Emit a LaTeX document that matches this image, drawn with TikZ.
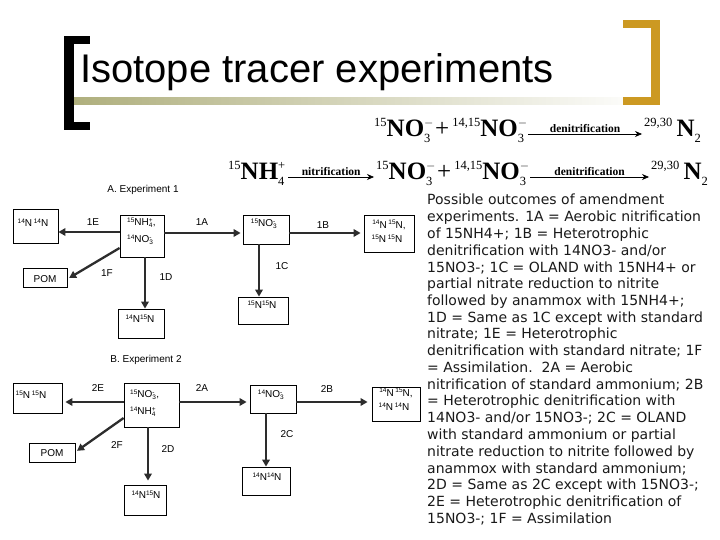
\documentclass[tikz,border=0pt]{standalone}
\usepackage{fontspec}
\setmainfont{Liberation Sans}
\newfontfamily\tnr{Liberation Serif}
\newfontfamily\dvs{DejaVu Sans}
\usetikzlibrary{arrows.meta}
\definecolor{goldc}{RGB}{204,153,34}
\definecolor{olv}{RGB}{175,175,125}
\definecolor{arrc}{RGB}{45,45,45}
% equation helpers
\newcommand\eqsup[1]{\raisebox{10pt}{\fontsize{12.5}{13}\selectfont #1}}
\newcommand\eqsub[1]{\raisebox{-6pt}{\fontsize{12.5}{13}\selectfont #1}}
\newcommand\eqsubsup[2]{\makebox[8pt][l]{\rlap{\eqsup{#2}}\eqsub{#1}}}
\newcommand\eqplus{\hspace{3pt}+\hspace{3pt}}
% box text helpers
\newcommand\bsp[1]{\raisebox{3.5pt}{\fontsize{6.5}{7}\selectfont #1}}
\newcommand\bsb[1]{\raisebox{-2pt}{\fontsize{6.5}{7}\selectfont #1}}
\newcommand\bsbsp[2]{\makebox[4pt][l]{\rlap{\bsp{#2}}\bsb{#1}}}
\tikzset{
  box/.style={draw, line width=0.8pt, inner sep=0, rectangle},
  arr/.style={draw=arrc, line width=2.3pt, -{Triangle[length=7pt,width=7.5pt]}},
  lab/.style={font=\fontsize{10}{12}\selectfont, inner sep=0},
  bt/.style={font=\fontsize{10}{12}\selectfont, inner sep=0},
  eqf/.style={font=\tnr\fontsize{25}{28}\selectfont, inner sep=0},
  eqarr/.style={draw=black, line width=0.7pt, -{Stealth[length=7pt,width=6pt]}, shorten <=2pt, shorten >=2pt},
  eqlab/.style={font=\tnr\bfseries\fontsize{11.5}{12}\selectfont, inner sep=1pt}
}
\begin{document}
\begin{tikzpicture}[x=1pt,y=-1pt]
\useasboundingbox (0,0) rectangle (720,540);
% title decoration
\shade[left color=olv, right color=white] (73,98) rectangle (650,105);
\fill[black] (64,36) rectangle (74,130);
\fill[black] (64,36) rectangle (90,44);
\fill[black] (64,122) rectangle (90,130);
\fill[goldc] (651,20) rectangle (660,105);
\fill[goldc] (623,20) rectangle (660,28);
\fill[goldc] (623,97) rectangle (660,105);
\node[anchor=base west, inner sep=0, font=\fontsize{40}{48}\selectfont] (title) at (80,83) {Isotope tracer experiments};

% equation 1
\node[eqf, anchor=base west] (e1a) at (374,137) {\eqsup{15}\textbf{NO}\eqsubsup{3}{$-$}\eqplus\eqsup{14,15}\textbf{NO}\eqsubsup{3}{$-$}};
\node[eqf, anchor=base east] (e1b) at (701,137) {\eqsup{29,30}\,\textbf{N}\eqsub{2}};
\draw[eqarr] ([yshift=3pt]e1a.base east) -- ([yshift=3pt]e1b.base west) node[midway, above, eqlab] {denitrification};
% equation 2
\node[eqf, anchor=base west] (e2a) at (228,180) {\eqsup{15}\textbf{NH}\eqsubsup{4}{+}};
\node[eqf, anchor=base west] (e2b) at (376,180) {\eqsup{15}\textbf{NO}\eqsubsup{3}{$-$}\eqplus\eqsup{14,15}\textbf{NO}\eqsubsup{3}{$-$}};
\node[eqf, anchor=base east] (e2c) at (708,180) {\eqsup{29,30}\,\textbf{N}\eqsub{2}};
\draw[eqarr] ([yshift=3pt]e2a.base east) -- ([yshift=3pt]e2b.base west) node[midway, above, eqlab] {nitrification};
\draw[eqarr] ([yshift=3pt]e2b.base east) -- ([yshift=3pt]e2c.base west) node[midway, above, eqlab] {denitrification};

% ---------- Experiment 1 ----------
\node[lab] (t1) at (143,190) {A. Experiment 1};
\node[box, minimum width=45, minimum height=34] (b1L) at (35.5,226) {};
\node[box, minimum width=44, minimum height=42] (c1) at (142,236) {};
\node[box, minimum width=44, minimum height=19] (p1) at (45,278) {};
\node[box, minimum width=46, minimum height=29] (n1) at (266,229.5) {};
\node[box, minimum width=50, minimum height=37] (r1) at (389,233.5) {};
\node[box, minimum width=50, minimum height=27] (d1) at (263,310.5) {};
\node[box, minimum width=46, minimum height=29] (m1) at (141,323.5) {};

\node[bt] at (33,223) {\bsp{14}N\,\bsp{14}N};
\node[bt, anchor=west] at (127,223) {\bsp{15}NH\bsbsp{4}{+},};
\node[bt, anchor=west] at (127,240) {\bsp{14}NO\bsbsp{3}{-}};
\node[bt] at (45,279) {POM};
\node[bt] at (264,224) {\bsp{15}NO\bsbsp{3}{-}};
\node[bt] at (389,225) {\bsp{14}N\,\bsp{15}N,};
\node[bt] at (387,239) {\bsp{15}N\,\bsp{15}N};
\node[bt] at (262,305) {\bsp{15}N\bsp{15}N};
\node[bt] at (140,319) {\bsp{14}N\bsp{15}N};

\node[lab] at (93,222) {1E};
\node[lab] at (202,222) {1A};
\node[lab] at (107,273) {1F};
\node[lab] at (166,277) {1D};
\node[lab] at (323,225) {1B};
\node[lab] at (282,266) {1C};

\draw[arr] (c1.west |- 0,232) -- (b1L.east |- 0,232);
\draw[arr, shorten >=2pt] (c1.east |- 0,233) -- (n1.west |- 0,233);
\draw[arr, shorten >=3pt] (n1.east |- 0,233) -- (r1.west |- 0,233);
\draw[arr] (n1.south -| 259,0) -- (d1.north -| 259,0);
\draw[arr] (c1.south -| 145,0) -- (m1.north -| 145,0);
\draw[arr, shorten >=2pt] (c1.west |- 0,248) -- (p1.east |- 0,279);

% ---------- Experiment 2 ----------
\node[lab] (t2) at (146,360) {B. Experiment 2};
\node[box, minimum width=49, minimum height=30] (b2L) at (37.5,398) {};
\node[box, minimum width=55, minimum height=44] (c2) at (151.5,405) {};
\node[box, minimum width=46, minimum height=19] (p2) at (52,453) {};
\node[box, minimum width=46, minimum height=28] (n2) at (273,399) {};
\node[box, minimum width=48, minimum height=34] (r2) at (396,404) {};
\node[box, minimum width=48, minimum height=28] (d2) at (266,481) {};
\node[box, minimum width=42, minimum height=30] (m2) at (145,500) {};

\node[bt] at (31,395) {\bsp{15}N\,\bsp{15}N};
\node[bt, anchor=west] at (130,395) {\bsp{15}NO\bsbsp{3}{-},};
\node[bt, anchor=west] at (130,412) {\bsp{14}NH\bsbsp{4}{+}};
\node[bt] at (52,453) {POM};
\node[bt] at (271,395) {\bsp{14}NO\bsbsp{3}{-}};
\node[bt] at (396,393) {\bsp{14}N\,\bsp{15}N,};
\node[bt] at (394,407) {\bsp{14}N\,\bsp{14}N};
\node[bt] at (267,477) {\bsp{14}N\bsp{14}N};
\node[bt] at (146,495) {\bsp{14}N\bsp{15}N};

\node[lab] at (98,388) {2E};
\node[lab] at (202,388) {2A};
\node[lab] at (117,445) {2F};
\node[lab] at (168,449) {2D};
\node[lab] at (327,389) {2B};
\node[lab] at (287,434) {2C};

\draw[arr, shorten >=3pt] (c2.west |- 0,402) -- (b2L.east |- 0,402);
\draw[arr, shorten >=3pt] (c2.east |- 0,402) -- (n2.west |- 0,402);
\draw[arr, shorten >=4pt] (n2.east |- 0,402) -- (r2.west |- 0,402);
\draw[arr] (n2.south -| 266,0) -- (d2.north -| 266,0);
\draw[arr, shorten >=4pt] (c2.south -| 148,0) -- (m2.north -| 148,0);
\draw[arr, shorten >=2pt] (c2.west |- 0,418) -- (p2.east |- 0,452);

% ---------- description ----------
\node[anchor=base west, inner sep=0, font=\dvs\fontsize{14}{16.75}\selectfont, text=black!90] (desc) at (427,205) {\vtop{\baselineskip=16.75pt
\hbox{Possible outcomes of amendment}
\hbox{experiments. 1A = Aerobic nitrification}
\hbox{of 15NH4+; 1B = Heterotrophic}
\hbox{denitrification with 14NO3- and/or}
\hbox{15NO3-; 1C = OLAND with 15NH4+ or}
\hbox{partial nitrate reduction to nitrite}
\hbox{followed by anammox with 15NH4+;}
\hbox{1D = Same as 1C except with standard}
\hbox{nitrate; 1E = Heterotrophic}
\hbox{denitrification with standard nitrate; 1F}
\hbox{= Assimilation.\ \ 2A = Aerobic}
\hbox{nitrification of standard ammonium; 2B}
\hbox{= Heterotrophic denitrification with}
\hbox{14NO3- and/or 15NO3-; 2C = OLAND}
\hbox{with standard ammonium or partial}
\hbox{nitrate reduction to nitrite followed by}
\hbox{anammox with standard ammonium;}
\hbox{2D = Same as 2C except with 15NO3-;}
\hbox{2E = Heterotrophic denitrification of}
\hbox{15NO3-; 1F = Assimilation}}};
\end{tikzpicture}
\end{document}
